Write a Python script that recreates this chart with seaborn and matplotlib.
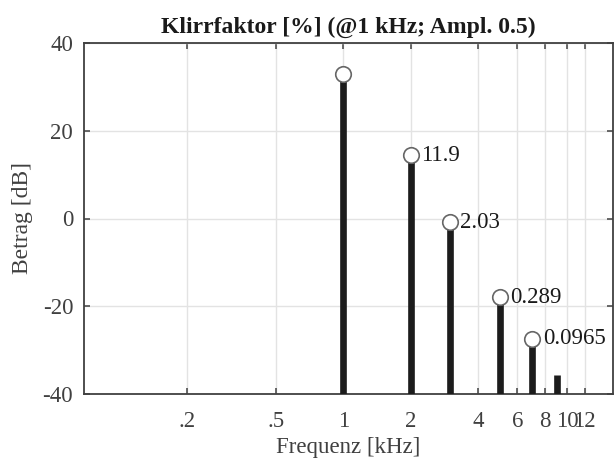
import matplotlib
matplotlib.use("Agg")
import matplotlib.pyplot as plt
import seaborn as sns
import pandas as pd
from matplotlib.ticker import FixedLocator, NullLocator

# ---- data ----
harmonic_freqs_khz = [1, 2, 3, 5, 7, 9]
harmonic_levels_db = [32.9, 14.4, -0.9, -17.9, -27.4, -35.7]
has_marker = [True, True, True, True, True, False]
distortion_labels = ["", "11.9", "2.03", "0.289", "0.0965", ""]

x_ticks = [0.2, 0.5, 1, 2, 4, 6, 8, 10, 12]
x_tick_labels = [".2", ".5", "1", "2", "4", "6", "8", "10", "12"]
y_ticks = [-40, -20, 0, 20, 40]
y_tick_labels = ["-40", "-20", "0", "20", "40"]
x_limits = [0.0695, 16.0]
y_limits = [-40, 40]

title_text = "Klirrfaktor [%] (@1 kHz; Ampl. 0.5)"
x_label = "Frequenz [kHz]"
y_label = "Betrag [dB]"

# ---- style ----
sns.set_theme(style="whitegrid")
plt.rcParams['font.family'] = ['Liberation Serif', 'DejaVu Serif']
plt.rcParams['axes.unicode_minus'] = False

df = pd.DataFrame({
    "freq": harmonic_freqs_khz,
    "level": harmonic_levels_db,
    "marker": has_marker,
    "label": distortion_labels,
})

W, H = 614, 459
fig = plt.figure(figsize=(W / 100, H / 100), dpi=100)
ax_left, ax_right, ax_top, ax_bottom = 84.3, 612.7, 43, 394
ax = fig.add_axes([ax_left / W, (H - ax_bottom) / H,
                   (ax_right - ax_left) / W, (ax_bottom - ax_top) / H])
ax.set_facecolor("white")
ax.set_xscale("log")

spine_col = "#404040"
# stems
ax.vlines(df["freq"], y_limits[0], df["level"], colors="#1c1c1c",
          linewidth=4.8, zorder=3, capstyle="butt")
# markers
sns.scatterplot(data=df[df["marker"]], x="freq", y="level", ax=ax,
                marker="o", s=125, facecolor="white", edgecolor="#666666",
                linewidth=1.2, zorder=4, legend=False, clip_on=False)

for _, row in df.iterrows():
    if row["label"]:
        ax.annotate(row["label"], xy=(row["freq"], row["level"]),
                    xytext=(7.5, 0), textcoords="offset points",
                    ha="left", va="center", fontsize=16.5, color="#1a1a1a",
                    zorder=5)

ax.set_xlim(*x_limits)
ax.set_ylim(*y_limits)
ax.xaxis.set_major_locator(FixedLocator(x_ticks))
ax.xaxis.set_minor_locator(NullLocator())
ax.set_xticklabels(x_tick_labels)
ax.set_yticks(y_ticks)
ax.set_yticklabels(y_tick_labels)

ax.grid(True, which="major", color="#e3e3e3", linewidth=1.0)
ax.set_axisbelow(True)
for s in ax.spines.values():
    s.set_visible(True)
    s.set_color(spine_col)
    s.set_linewidth(1.3)

ax.tick_params(axis="both", which="major", direction="in", length=4,
               width=1.1, color=spine_col, labelcolor="#404040",
               labelsize=16.5, top=True, right=True, bottom=True, left=True)
ax.tick_params(axis="x", pad=12)
ax.tick_params(axis="y", pad=8)

ax.set_title(title_text, fontsize=17, fontweight="bold", color="#1a1a1a", pad=7)
ax.set_xlabel(x_label, fontsize=16.5, color="#404040", labelpad=3.5)
ax.set_ylabel(y_label, fontsize=17, color="#404040", labelpad=7)

fig.savefig("out.png", dpi=100)
